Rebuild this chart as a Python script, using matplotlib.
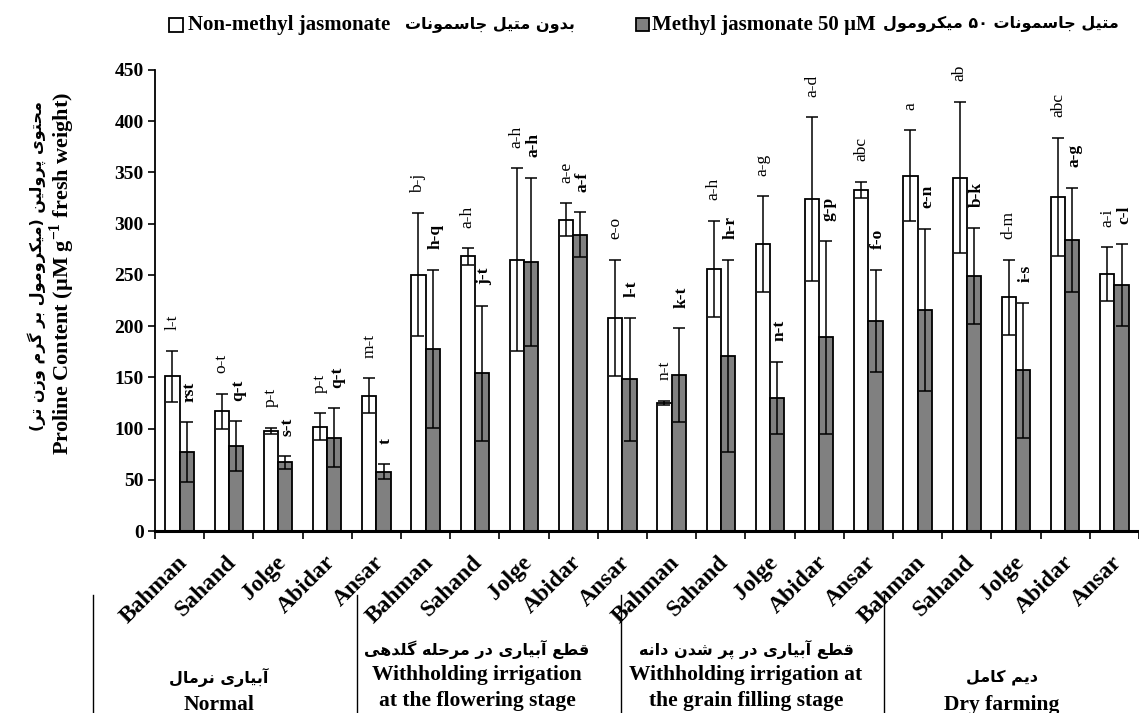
import matplotlib
matplotlib.use("Agg")
import matplotlib.pyplot as plt
import matplotlib.transforms as mtransforms
from matplotlib.patches import Rectangle
from matplotlib.lines import Line2D
import numpy as np

# ---------------- data ----------------
cultivars = ['Bahman', 'Sahand', 'Jolge', 'Abidar', 'Ansar'] * 4
control_mean = [151, 117, 98, 102, 132, 250, 268, 265, 304, 208,
                125, 256, 280, 324, 333, 347, 345, 228, 326, 251]
control_err = [25, 17, 3, 13, 17, 60, 8, 89, 16, 57,
               2, 47, 47, 80, 8, 44, 74, 37, 58, 26]
mj_mean = [77, 83, 67, 91, 58, 178, 154, 263, 289, 148,
           152, 171, 130, 189, 205, 216, 249, 157, 284, 240]
mj_err = [29, 24, 6, 29, 7, 77, 66, 82, 22, 60,
          46, 94, 35, 94, 50, 79, 47, 66, 51, 40]
control_letters = ['l-t', 'o-t', 'p-t', 'p-t', 'm-t', 'b-j', 'a-h', 'a-h', 'a-e', 'e-o',
                   'n-t', 'a-h', 'a-g', 'a-d', 'abc', 'a', 'ab', 'd-m', 'abc', 'a-i']
mj_letters = ['rst', 'q-t', 's-t', 'q-t', 't', 'h-q', 'j-t', 'a-h', 'a-f', 'l-t',
              'k-t', 'h-r', 'n-t', 'g-p', 'f-o', 'e-n', 'b-k', 'i-s', 'a-g', 'c-l']
group_fa = ['آبیاری نرمال', 'قطع آبیاری در مرحله گلدهی',
            'قطع آبیاری در پر شدن دانه', 'دیم کامل']
group_en = [['Normal'], ['Withholding irrigation', 'at the flowering stage'],
            ['Withholding irrigation at', 'the grain filling stage'], ['Dry farming']]
legend_en = ['Non-methyl jasmonate', 'Methyl jasmonate 50 µM']
legend_fa = ['بدون متیل جاسمونات', 'متیل جاسمونات ۵۰ میکرومول']
ylabel_en = r'Proline Content (µM g$^{\mathbf{-1}}$ fresh weight)'
ylabel_fa = 'محتوی پرولین (میکرومول بر گرم وزن تر)'
yticks = [0, 50, 100, 150, 200, 250, 300, 350, 400, 450]

# ---------------- simple Persian shaping (presentation forms) ----------------
FORMS = {
    'ا': ('\uFE8D', '\uFE8E', None, None), 'آ': ('\uFE81', '\uFE82', None, None),
    'د': ('\uFEA9', '\uFEAA', None, None), 'ذ': ('\uFEAB', '\uFEAC', None, None),
    'ر': ('\uFEAD', '\uFEAE', None, None), 'ز': ('\uFEAF', '\uFEB0', None, None),
    'و': ('\uFEED', '\uFEEE', None, None),
    'ب': ('\uFE8F', '\uFE90', '\uFE91', '\uFE92'), 'پ': ('\uFB56', '\uFB57', '\uFB58', '\uFB59'),
    'ت': ('\uFE95', '\uFE96', '\uFE97', '\uFE98'), 'ج': ('\uFE9D', '\uFE9E', '\uFE9F', '\uFEA0'),
    'ح': ('\uFEA1', '\uFEA2', '\uFEA3', '\uFEA4'), 'س': ('\uFEB1', '\uFEB2', '\uFEB3', '\uFEB4'),
    'ش': ('\uFEB5', '\uFEB6', '\uFEB7', '\uFEB8'), 'ط': ('\uFEC1', '\uFEC2', '\uFEC3', '\uFEC4'),
    'ع': ('\uFEC9', '\uFECA', '\uFECB', '\uFECC'), 'ق': ('\uFED5', '\uFED6', '\uFED7', '\uFED8'),
    'ک': ('\uFB8E', '\uFB8F', '\uFB90', '\uFB91'), 'گ': ('\uFB92', '\uFB93', '\uFB94', '\uFB95'),
    'ل': ('\uFEDD', '\uFEDE', '\uFEDF', '\uFEE0'), 'م': ('\uFEE1', '\uFEE2', '\uFEE3', '\uFEE4'),
    'ن': ('\uFEE5', '\uFEE6', '\uFEE7', '\uFEE8'), 'ه': ('\uFEE9', '\uFEEA', '\uFEEB', '\uFEEC'),
    'ی': ('\uFBFC', '\uFBFD', '\uFBFE', '\uFBFF'),
}
MIRROR = {'(': ')', ')': '('}


def shape_word(w):
    out = []
    for i, c in enumerate(w):
        if c not in FORMS:
            out.append(c)
            continue
        prev = w[i - 1] if i > 0 else None
        nxt = w[i + 1] if i + 1 < len(w) else None
        jp = prev in FORMS and FORMS[prev][2] is not None
        jn = FORMS[c][2] is not None and nxt in FORMS
        iso, fin, ini, med = FORMS[c]
        if jp and jn:
            out.append(med)
        elif jp:
            out.append(fin)
        elif jn:
            out.append(ini)
        else:
            out.append(iso)
    return out


def rtl(text):
    words = []
    for w in text.split(' '):
        s = shape_word(w)
        if all(ch.isdigit() for ch in w):
            words.append(''.join(s))
        else:
            words.append(''.join(MIRROR.get(ch, ch) for ch in reversed(s)))
    return ' '.join(reversed(words))


# ---------------- figure ----------------
plt.rcParams['mathtext.fontset'] = 'custom'
plt.rcParams['mathtext.rm'] = 'Liberation Serif:bold'
plt.rcParams['mathtext.bf'] = 'Liberation Serif:bold'
SERIF = 'Liberation Serif'
FA = ['DejaVu Sans']
FA_SIZE = 11.5

W, H = 1139, 713
fig = plt.figure(figsize=(W / 100, H / 100), dpi=100)


def fx(x):
    return x / W


def fy(y):
    return 1 - y / H


x0_px, y0_px, ytop_px = 155, 531, 70
cat_w = 49.4
xmax = -0.5 + (W - x0_px) / cat_w
ax = fig.add_axes([fx(x0_px), fy(y0_px), 1 - fx(x0_px), fy(ytop_px) - fy(y0_px)])

x = np.arange(len(cultivars))
bw = 0.29
ax.bar(x - bw / 2, control_mean, bw, color='white', edgecolor='black', linewidth=1.3, zorder=2)
ax.bar(x + bw / 2, mj_mean, bw, color='#808080', edgecolor='black', linewidth=1.3, zorder=2)
ax.errorbar(x - bw / 2, control_mean, yerr=control_err, fmt='none', ecolor='black',
            elinewidth=1.1, capsize=4.5, capthick=1.1, zorder=3)
ax.errorbar(x + bw / 2, mj_mean, yerr=mj_err, fmt='none', ecolor='black',
            elinewidth=1.1, capsize=4.5, capthick=1.1, zorder=3)

off = 20
for i in range(len(cultivars)):
    ax.text(x[i] - bw / 2, control_mean[i] + control_err[i] + off, control_letters[i],
            rotation=90, ha='center', va='bottom', fontsize=12.5, family=SERIF,
            clip_on=False)
    ax.text(x[i] + bw / 2 + 0.05, mj_mean[i] + mj_err[i] + off, mj_letters[i],
            rotation=90, ha='center', va='bottom', fontsize=12.5, family=SERIF,
            fontweight='bold', clip_on=False)

ax.set_xlim(-0.5, xmax)
ax.set_ylim(0, 450)
ax.set_yticks(yticks)
ax.set_yticklabels([str(v) for v in yticks], fontsize=14, fontweight='bold', family=SERIF)
ax.tick_params(axis='y', direction='out', length=5, width=1.2, pad=3)

ax.set_xticks(x)
ax.set_xticklabels(cultivars, rotation=45, ha='right', va='top', rotation_mode='anchor',
                   fontsize=17, fontweight='bold', family=SERIF)
ax.set_xticks(np.arange(-0.5, len(cultivars), 1.0), minor=True)
ax.tick_params(axis='x', which='major', length=0, pad=15)
ax.tick_params(axis='x', which='minor', direction='out', length=6, width=1.2)
shift = mtransforms.ScaledTranslation(-2 / 72, 0, fig.dpi_scale_trans)
for lab in ax.get_xticklabels():
    lab.set_transform(lab.get_transform() + shift)

for s in ['top', 'right']:
    ax.spines[s].set_visible(False)
ax.spines['left'].set_linewidth(1.3)
ax.spines['bottom'].set_linewidth(2.2)

# y labels
fig.text(fx(62), fy(273), ylabel_en, rotation=90, ha='center', va='center',
         fontsize=16, fontweight='bold', family=SERIF)
fig.text(fx(37), fy(266), rtl(ylabel_fa), rotation=90, ha='center', va='center',
         fontsize=FA_SIZE, fontweight='bold', family=FA)

# legend
fig.patches.append(Rectangle((fx(169), fy(32)), fx(14), fy(18) - fy(32), transform=fig.transFigure,
                             facecolor='white', edgecolor='black', linewidth=1.3))
fig.text(fx(188), fy(25), legend_en[0], ha='left', va='center', fontsize=15,
         fontweight='bold', family=SERIF)
fig.text(fx(490), fy(24), rtl(legend_fa[0]), ha='center', va='center', fontsize=FA_SIZE,
         fontweight='bold', family=FA)
fig.patches.append(Rectangle((fx(636), fy(31)), fx(13), fy(18) - fy(31), transform=fig.transFigure,
                             facecolor='#808080', edgecolor='black', linewidth=1.3))
fig.text(fx(652), fy(25), legend_en[1], ha='left', va='center', fontsize=15,
         fontweight='bold', family=SERIF)
fig.text(fx(1001), fy(24), rtl(legend_fa[1]), ha='center', va='center', fontsize=FA_SIZE,
         fontweight='bold', family=FA)

# group separators and labels
for xs in [93, 357, 621, 884]:
    fig.add_artist(Line2D([fx(xs), fx(xs)], [fy(595), fy(713)], transform=fig.transFigure,
                          color='black', linewidth=1.0))
gcx = [219, 477, 746, 1002]
for g in range(4):
    if len(group_en[g]) == 1:
        fa_y, en_ys = 677, [705]
    else:
        fa_y, en_ys = 649, [675, 701]
    fig.text(fx(gcx[g]), fy(fa_y), rtl(group_fa[g]), ha='center', va='center',
             fontsize=FA_SIZE, fontweight='bold', family=FA)
    for line, yy in zip(group_en[g], en_ys):
        fig.text(fx(gcx[g]), fy(yy), line, ha='center', va='center', fontsize=15.5,
                 fontweight='bold', family=SERIF)

fig.savefig('out.png', dpi=100)
